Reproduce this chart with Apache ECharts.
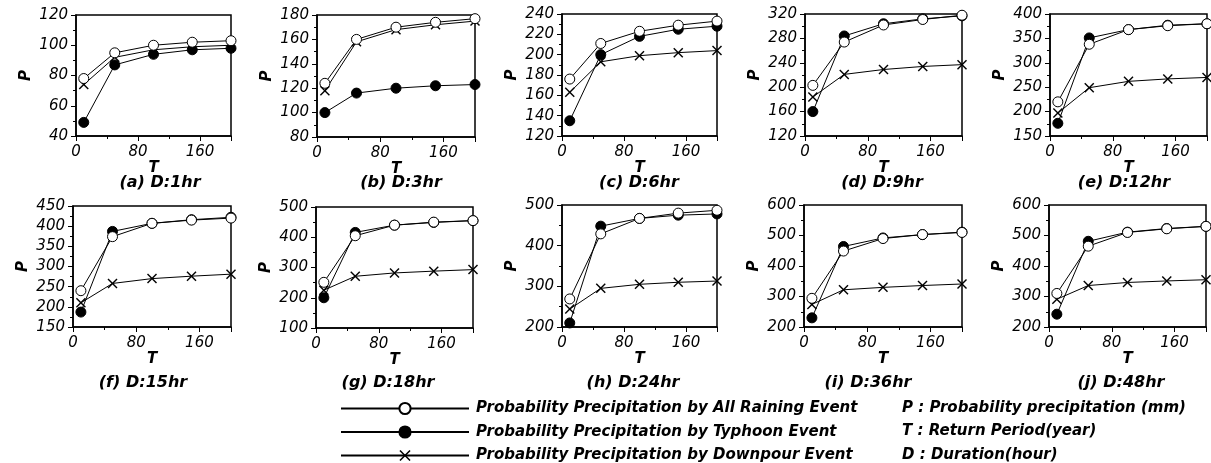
<!DOCTYPE html>
<html>
<head>
<meta charset="utf-8">
<script src="https://cdn.jsdelivr.net/npm/echarts@6/dist/echarts.min.js"></script>
<style>
html,body{margin:0;padding:0;background:#fff;}
#chart{width:1211px;height:463px;}
</style>
</head>
<body>
<div id="chart"></div>
<script>
// Return period T (year)
const returnPeriods = [10, 50, 100, 150, 200];

// Panel labels
const panelLabels = ['(a) D:1hr','(b) D:3hr','(c) D:6hr','(d) D:9hr','(e) D:12hr',
                     '(f) D:15hr','(g) D:18hr','(h) D:24hr','(i) D:36hr','(j) D:48hr'];

// Y axis ranges per panel
const yMins      = [40, 80, 120, 120, 150, 150, 100, 200, 200, 200];
const yMaxs      = [120, 180, 240, 320, 400, 450, 500, 500, 600, 600];
const yIntervals = [20, 20, 20, 40, 50, 50, 100, 100, 100, 100];

// Probability precipitation by All Raining Event
const allA = [78, 95, 100, 102, 103];
const allB = [124, 160, 170, 174, 177];
const allC = [176, 211, 223, 229, 233];
const allD = [203, 274, 302, 311, 318];
const allE = [220, 338, 368, 376, 380];
const allF = [240, 374, 407, 415, 420];
const allG = [251, 405, 440, 450, 455];
const allH = [269, 429, 467, 480, 487];
const allI = [294, 449, 490, 503, 510];
const allJ = [310, 465, 510, 522, 530];

// Probability precipitation by Typhoon Event
const tyA = [49, 87, 94, 97, 98];
const tyB = [100, 116, 120, 122, 123];
const tyC = [135, 200, 218, 225, 228];
const tyD = [160, 284, 304, 312, 317];
const tyE = [176, 351, 368, 377, 380];
const tyF = [187, 387, 407, 416, 422];
const tyG = [200, 416, 440, 449, 455];
const tyH = [210, 448, 467, 475, 478];
const tyI = [230, 464, 492, 503, 511];
const tyJ = [242, 481, 511, 523, 530];

// Probability precipitation by Downpour Event
const dpA = [74, 92, 97, 99, 100];
const dpB = [118, 158, 168, 172, 175];
const dpC = [163, 193, 199, 202, 204];
const dpD = [184, 221, 229, 234, 237];
const dpE = [197, 249, 262, 267, 270];
const dpF = [210, 258, 270, 276, 281];
const dpG = [225, 271, 282, 288, 293];
const dpH = [244, 295, 305, 310, 313];
const dpI = [274, 322, 330, 336, 341];
const dpJ = [291, 336, 346, 351, 355];

const allSets = [allA, allB, allC, allD, allE, allF, allG, allH, allI, allJ];
const tySets  = [tyA, tyB, tyC, tyD, tyE, tyF, tyG, tyH, tyI, tyJ];
const dpSets  = [dpA, dpB, dpC, dpD, dpE, dpF, dpG, dpH, dpI, dpJ];

const seriesNames = ['Probability Precipitation by All Raining Event',
                     'Probability Precipitation by Typhoon Event',
                     'Probability Precipitation by Downpour Event'];
const noteTexts = ['P : Probability precipitation (mm)',
                   'T : Return Period(year)',
                   'D : Duration(hour)'];

// layout
const gridBoxes = [
  [76, 15, 155, 121], [317, 15, 158, 122], [562, 14, 155, 122], [805, 14, 157, 122], [1050, 14, 157, 122],
  [73, 206, 158, 121], [316, 207, 157, 121], [562, 205, 155, 122], [804, 205, 158, 122], [1049, 205, 157, 122]
];
const subCenters = [[160,183],[401,183],[639,183],[882,183],[1124,183],
                    [143,383],[388,383],[633,383],[868,383],[1121,383]];
const rowY = [408, 431.5, 455];

const FONT = 'DejaVu Sans';
const crossPath = 'path://M0,1L1,0L5,4L9,0L10,1L6,5L10,9L9,10L5,6L1,10L0,9L4,5Z';

const grids = [], xAxes = [], yAxes = [], series = [], graphics = [], legends = [];
for (let i = 0; i < 10; i++) {
  const g = gridBoxes[i];
  grids.push({left: g[0], top: g[1], width: g[2], height: g[3], show: true,
    borderColor: '#000', borderWidth: 1.5, backgroundColor: 'transparent', containLabel: false});
  xAxes.push({type: 'value', gridIndex: i, min: 0, max: 200, interval: 80,
    name: 'T', nameLocation: 'middle', nameGap: 18,
    nameTextStyle: {fontFamily: FONT, fontWeight: 'bold', fontStyle: 'italic', fontSize: 15, color: '#000'},
    axisLine: {show: true, onZero: false, lineStyle: {color: '#000', width: 1.5}},
    axisTick: {show: true, inside: false, length: 5, lineStyle: {color: '#000'}},
    minorTick: {show: true, splitNumber: 2, length: 3, lineStyle: {color: '#000'}},
    axisLabel: {showMaxLabel: false, margin: 9, fontFamily: FONT, fontStyle: 'italic', fontSize: 15, color: '#000'},
    splitLine: {show: false}});
  yAxes.push({type: 'value', gridIndex: i, min: yMins[i], max: yMaxs[i], interval: yIntervals[i],
    name: 'P', nameLocation: 'middle', nameGap: 42, nameRotate: 90,
    nameTextStyle: {fontFamily: FONT, fontWeight: 'bold', fontStyle: 'italic', fontSize: 15, color: '#000'},
    axisLine: {show: true, onZero: false, lineStyle: {color: '#000', width: 1.5}},
    axisTick: {show: true, inside: false, length: 5, lineStyle: {color: '#000'}},
    minorTick: {show: true, splitNumber: 2, length: 3, lineStyle: {color: '#000'}},
    axisLabel: {margin: 8, fontFamily: FONT, fontStyle: 'italic', fontSize: 15, color: '#000'},
    splitLine: {show: false}});
  const mk = (arr) => returnPeriods.map((t, k) => [t, arr[k]]);
  series.push({name: seriesNames[2], type: 'line', xAxisIndex: i, yAxisIndex: i,
    data: mk(dpSets[i]), symbol: crossPath, symbolSize: 10, showAllSymbol: true,
    lineStyle: {color: '#000', width: 1}, itemStyle: {color: '#000'}, z: 3});
  series.push({name: seriesNames[1], type: 'line', xAxisIndex: i, yAxisIndex: i,
    data: mk(tySets[i]), symbol: 'circle', symbolSize: 10,
    lineStyle: {color: '#000', width: 1}, itemStyle: {color: '#000', borderColor: '#000', borderWidth: 1}, z: 4});
  series.push({name: seriesNames[0], type: 'line', xAxisIndex: i, yAxisIndex: i,
    data: mk(allSets[i]), symbol: 'circle', symbolSize: 10,
    lineStyle: {color: '#000', width: 1}, itemStyle: {color: '#fff', borderColor: '#000', borderWidth: 1}, z: 5});
  graphics.push({type: 'text', x: subCenters[i][0], y: subCenters[i][1],
    style: {text: panelLabels[i], fill: '#000', font: 'italic bold 16px "' + FONT + '"',
      textAlign: 'center', textVerticalAlign: 'middle'}});
}
for (let r = 0; r < 3; r++) {
  legends.push({
    orient: 'horizontal', left: 340, top: rowY[r] - 7, padding: 0,
    data: [seriesNames[r]],
    itemWidth: 128, itemHeight: 14,
    textStyle: {fontFamily: FONT, fontWeight: 'bold', fontStyle: 'italic', fontSize: 15, color: '#000', padding: [0,0,0,2]},
    selectedMode: false
  });
  graphics.push({type: 'text', x: 902, y: rowY[r],
    style: {text: noteTexts[r], fill: '#000', font: 'italic bold 15px "' + FONT + '"',
      textAlign: 'left', textVerticalAlign: 'middle'}});
}

const chart = echarts.init(document.getElementById('chart'), null, {renderer: 'canvas'});
chart.setOption({
  animation: false,
  backgroundColor: '#fff',
  grid: grids,
  xAxis: xAxes,
  yAxis: yAxes,
  series: series,
  legend: legends,
  graphic: graphics
});
</script>
</body>
</html>
